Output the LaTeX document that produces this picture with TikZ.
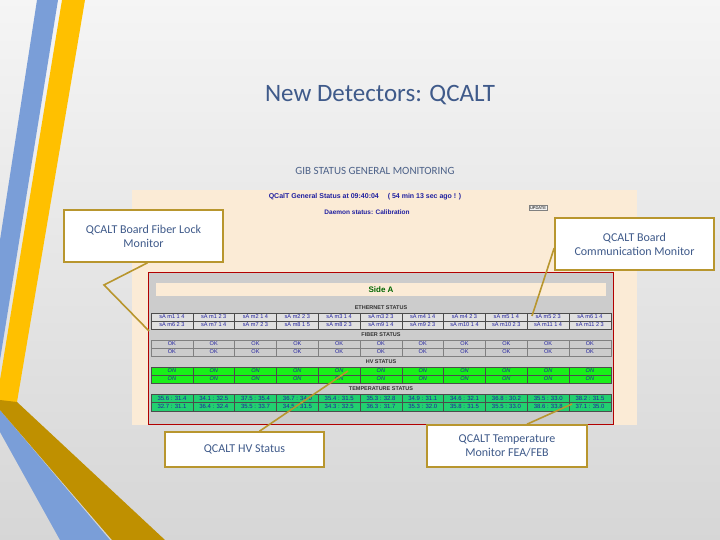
\documentclass[tikz,border=0pt]{standalone}
\usepackage{fontspec}
\setmainfont{Carlito}
\newfontfamily\arl{Liberation Sans}
\begin{document}
\begin{tikzpicture}[x=1pt,y=-1pt,
  callout/.style={draw=gold,line width=1.6pt,fill=white,text=txtblue,align=center,font=\fontsize{12}{14}\selectfont},
  ptr/.style={draw=gold,line width=1.6pt,line join=miter},
  cell/.style={draw=black!70,line width=0.4pt},
  ct/.style={font=\arl\fontsize{5.6}{5}\selectfont,text=lnk,inner sep=0pt},
  lbl/.style={font=\arl\fontsize{5.5}{6}\selectfont\bfseries,text=black!80}]
\definecolor{gold}{HTML}{B8962E}
\definecolor{txtblue}{HTML}{3F5A8A}
\definecolor{sblue}{HTML}{7A9ED8}
\definecolor{syel}{HTML}{FFC000}
\definecolor{sgold}{HTML}{BF9000}
\definecolor{peach}{HTML}{FBEBD6}
\definecolor{lnk}{HTML}{2020A0}
\definecolor{grn}{HTML}{19F019}
\definecolor{tgrn}{HTML}{22D070}
\useasboundingbox (0,0) rectangle (720,540);
\shade[top color=white!96!black,bottom color=white!84!black] (0,0) rectangle (720,540);
% decorations
\fill[sblue] (37,0) -- (58,0) -- (0,360) -- (0,240) -- cycle;
\fill[syel] (62,0) -- (85,0) -- (17,402) -- (0,402) -- (0,380) -- cycle;
\fill[sblue] (0,410) -- (0,432) -- (60,540) -- (110,540) -- cycle;
\fill[sgold] (0,400) -- (17,402) -- (165,540) -- (112,540) -- (0,410) -- cycle;
% titles
\node[text=txtblue,font=\fontsize{25}{28}\selectfont] (title) at (380,95) {New Detectors: QCALT};
\node[text=txtblue!80!gray,font=\fontsize{11}{12}\selectfont] (sub) at (375,171) {GIB STATUS GENERAL MONITORING};
% screenshot
\fill[peach] (132,190) rectangle (637,425);
\node[font=\arl\fontsize{7}{8}\selectfont\bfseries,text=lnk] (hdr) at (365,197) {QCalT General Status at 09:40:04 \quad ( 54 min 13 sec ago ! )};
\node[font=\arl\fontsize{6.5}{8}\selectfont\bfseries,text=lnk] (dae) at (367,212) {Daemon status: Calibration};
\node[draw=black!50,fill=white!95!black,font=\arl\fontsize{4}{5}\selectfont,inner sep=1pt] (upd) at (538,208) {UPDATE};
\filldraw[fill=black!20,draw=red!70!black,line width=0.8pt] (148,272) rectangle (613,424);
\fill[peach] (156,283) rectangle (606,296);
\node[font=\arl\fontsize{8}{9}\selectfont\bfseries,text=green!40!black] (side) at (381,289.5) {Side A};
\node[lbl] (eth) at (381,308) {ETHERNET STATUS};
\node[lbl] (fib) at (381,335) {FIBER STATUS};
\node[lbl] (hv) at (381,362) {HV STATUS};
\node[lbl] (tmp) at (381,389) {TEMPERATURE STATUS};
\foreach \a/\b [count=\i from 0] in {sA m1 1 4/sA m6 2 3,sA m1 2 3/sA m7 1 4,sA m2 1 4/sA m7 2 3,sA m2 2 3/sA m8 1 5,sA m3 1 4/sA m8 2 3,sA m3 2 3/sA m9 1 4,sA m4 1 4/sA m9 2 3,sA m4 2 3/sA m10 1 4,sA m5 1 4/sA m10 2 3,sA m5 2 3/sA m11 1 4,sA m6 1 4/sA m11 2 3}{
  \pgfmathsetmacro\xl{151+41.8*\i}
  \pgfmathsetmacro\xc{\xl+20.9}
  \draw[cell,fill=black!12] (\xl,313) rectangle ++(41.8,8);
  \draw[cell,fill=black!12] (\xl,321) rectangle ++(41.8,8);
  \node[ct] at (\xc,317) {\a};
  \node[ct] at (\xc,325) {\b};
  \draw[cell,draw=black!50] (\xl,340) rectangle ++(41.8,8);
  \draw[cell,draw=black!50] (\xl,348) rectangle ++(41.8,8);
  \node[ct] at (\xc,344) {OK};
  \node[ct] at (\xc,352) {OK};
  \draw[cell,fill=grn] (\xl,367) rectangle ++(41.8,8);
  \draw[cell,fill=grn] (\xl,375) rectangle ++(41.8,8);
  \node[ct,font=\arl\fontsize{5.6}{5}\selectfont\itshape] at (\xc,371) {ON};
  \node[ct,font=\arl\fontsize{5.6}{5}\selectfont\itshape] at (\xc,379) {ON};
  \draw[cell,fill=tgrn] (\xl,394) rectangle ++(41.8,8.5);
  \draw[cell,fill=tgrn] (\xl,402.5) rectangle ++(41.8,8.5);
}
\foreach \a/\b [count=\i from 0] in {35.6 : 31.4/32.7 : 31.1,34.1 : 32.5/36.4 : 32.4,37.5 : 35.4/35.5 : 33.7,36.7 : 34.0/34.5 : 31.5,35.4 : 31.5/34.3 : 32.5,35.3 : 32.8/36.3 : 31.7,34.9 : 31.1/35.3 : 32.0,34.6 : 32.1/35.8 : 31.5,36.8 : 30.2/35.5 : 33.0,35.5 : 33.0/38.6 : 33.8,38.2 : 31.5/37.1 : 35.0}{
  \pgfmathsetmacro\xc{172+41.8*\i}
  \node[ct,font=\arl\fontsize{6}{5}\selectfont] at (\xc,398.3) {\a};
  \node[ct,font=\arl\fontsize{6}{5}\selectfont] at (\xc,406.8) {\b};
}
% callouts
\node[callout,minimum width=159pt,minimum height=52pt] (fl) at (143.5,236) {QCALT Board Fiber Lock\\Monitor};
\coordinate (flA) at (104,285); \coordinate (flB) at (149,331);
\draw[ptr] ([xshift=4pt]fl.south) -- (flA) -- (flB);
\node[callout,minimum width=159pt,minimum height=52pt] (cm) at (634.5,244) {QCALT Board\\Communication Monitor};
\coordinate (cmA) at (532,316);
\draw[ptr] ([yshift=-4pt]cm.west) -- (cmA);
\node[callout,minimum width=159pt,minimum height=35pt] (hvb) at (244.5,449.5) {QCALT HV Status};
\coordinate (hvA) at (348,371);
\draw[ptr] ([xshift=15pt]hvb.north) -- (hvA);
\node[callout,minimum width=160pt,minimum height=42pt] (tb) at (507,446) {QCALT Temperature\\Monitor FEA/FEB};
\coordinate (tA) at (572,404);
\draw[ptr] ([xshift=20pt]tb.north) -- (tA);
\end{tikzpicture}
\end{document}
